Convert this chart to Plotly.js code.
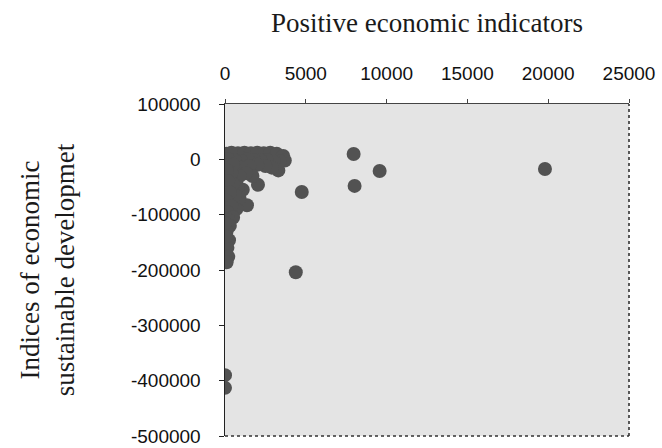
<!DOCTYPE html>
<html>
<head>
<meta charset="utf-8">
<script src="https://cdn.plot.ly/plotly-3.0.1.min.js"></script>
<style>html,body{margin:0;padding:0;background:#fff;}#chart{width:662px;height:448px;}</style>
</head>
<body>
<div id="chart"></div>
<script>
// Positive economic indicators (x) vs indices of economic sustainable development (y)
var xValues = [
  19800, 7960, 9570, 8020, 4750, 4380, 0, 0,
  100, 400, 800, 1200, 1600, 2000, 2400, 2800, 3200, 3600, 3700,
  3400, 3000, 2600, 2200, 1800, 1400, 1000, 600, 200,
  3300, 2900, 2500, 2000, 1500, 1000, 500,
  2040, 1700, 1300, 900, 400, 100,
  1360, 1100, 800, 500, 200, 900, 600, 300, 100,
  700, 400, 150, 500, 200, 300, 100, 250, 150, 200, 50, 0, 100
];
var yValues = [
  -17500, 9600, -21000, -48000, -59000, -204000, -390000, -413000,
  10000, 12000, 11000, 12000, 11000, 12000, 11000, 12000, 10000, 6000, -2000,
  -3000, -4000, -1000, -2000, -1000, 0, -3000, -2000, 0,
  -20000, -15000, -12000, -10000, -12000, -15000, -10000,
  -46000, -30000, -25000, -30000, -25000, -20000,
  -83000, -55000, -50000, -45000, -40000, -70000, -65000, -60000, -75000,
  -90000, -85000, -95000, -105000, -110000, -120000, -130000, -146000, -160000, -176000, -140000, -115000, -186000
];
var xTicks = [0, 5000, 10000, 15000, 20000, 25000];
var yTicks = [100000, 0, -100000, -200000, -300000, -400000, -500000];
var xTitle = "Positive economic indicators";
var yTitle = "Indices of economic<br>sustainable developmet";

var trace = {
  x: xValues,
  y: yValues,
  type: "scatter",
  mode: "markers",
  marker: {size: 14, color: "#525252", line: {width: 0}},
  hoverinfo: "x+y"
};

var titleFont = {family: "Liberation Serif, Times New Roman, serif", size: 27, color: "#1a1a1a"};

var layout = {
  width: 662,
  height: 448,
  margin: {l: 225, r: 33, t: 104, b: 12},
  paper_bgcolor: "#ffffff",
  plot_bgcolor: "#e4e4e4",
  showlegend: false,
  font: {family: "Liberation Sans, Arial, sans-serif", size: 19, color: "#111"},
  xaxis: {
    side: "top",
    range: [0, 25000],
    tickvals: xTicks,
    ticktext: xTicks.map(String),
    showgrid: false,
    zeroline: false,
    showline: true,
    linecolor: "#444",
    linewidth: 1.2,
    mirror: false,
    ticks: "outside",
    ticklen: 4,
    tickcolor: "#444",
    ticklabelstandoff: 11,
    automargin: false,
    title: {text: xTitle, font: titleFont, standoff: 22}
  },
  yaxis: {
    range: [-500000, 100000],
    tickvals: yTicks,
    ticktext: yTicks.map(String),
    showgrid: false,
    zeroline: false,
    showline: true,
    linecolor: "#222",
    linewidth: 1.5,
    mirror: false,
    ticks: "outside",
    ticklen: 5,
    tickcolor: "#222",
    ticklabelstandoff: 14,
    automargin: false,
    title: {text: yTitle, font: titleFont, standoff: 48}
  },
  shapes: [
    {type: "line", xref: "paper", yref: "paper", x0: 1, x1: 1, y0: 0, y1: 1, line: {color: "#333", width: 1.6, dash: "dot"}},
    {type: "line", xref: "paper", yref: "paper", x0: 0, x1: 1, y0: 0, y1: 0, line: {color: "#333", width: 1.6, dash: "dot"}}
  ]
};

Plotly.newPlot("chart", [trace], layout, {displayModeBar: false, staticPlot: true});
</script>
</body>
</html>
